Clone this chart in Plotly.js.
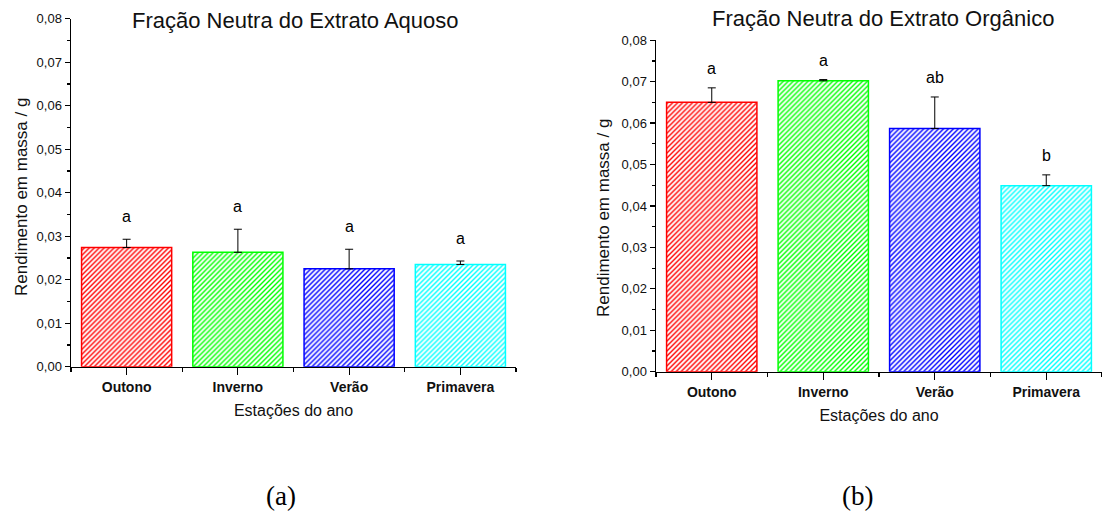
<!DOCTYPE html>
<html>
<head>
<meta charset="utf-8">
<script src="https://cdn.plot.ly/plotly-3.0.1.min.js"></script>
<style>
  html, body { margin: 0; padding: 0; background: #fff; }
  #chart { width: 1102px; height: 515px; }
</style>
</head>
<body>
<div id="chart"></div>
<script>
// Seasons and bar colours
const seasons = ['Outono', 'Inverno', 'Verão', 'Primavera'];
const seasonColors = ['#ff0000', '#00ff00', '#0000ff', '#00ffff'];

// (a) Neutral fraction of the aqueous extract: mean yield (g) and SD
const aqueousMean = [0.0274, 0.0263, 0.0225, 0.0235];
const aqueousSd = [0.0019, 0.0053, 0.0045, 0.0008];
const aqueousLetters = ['a', 'a', 'a', 'a'];

// (b) Neutral fraction of the organic extract: mean yield (g) and SD
const organicMean = [0.0650, 0.0702, 0.0587, 0.0449];
const organicSd = [0.0035, 0.0003, 0.0076, 0.0026];
const organicLetters = ['a', 'a', 'ab', 'b'];

const FONT = 'Liberation Sans, Arial, sans-serif';
const SERIF = 'Liberation Serif, Times New Roman, serif';
const xIdx = seasons.map((_, i) => i);

function barTrace(means, sds, xa, ya) {
  return {
    type: 'bar',
    x: xIdx,
    y: means,
    xaxis: xa,
    yaxis: ya,
    width: 0.81,
    marker: {
      color: '#ffffff',
      line: { color: seasonColors, width: 1.5 },
      pattern: { shape: '/', fgcolor: seasonColors, bgcolor: '#ffffff', size: 3.5, solidity: 0.4 }
    },
    error_y: {
      type: 'data', symmetric: false, array: sds, arrayminus: sds.map(() => 0),
      color: '#000', thickness: 1, width: 4
    },
    hoverinfo: 'skip',
    showlegend: false
  };
}

function letterNotes(means, sds, letters, xref, yref, shift) {
  return letters.map((t, i) => ({
    x: i, y: means[i] + sds[i], xref: xref, yref: yref,
    text: t, showarrow: false, yanchor: 'bottom', yshift: shift,
    font: { family: FONT, size: 16, color: '#000' }
  }));
}

function xAxis(domain, anchor) {
  return {
    domain: domain, anchor: anchor,
    range: [-0.5, 3.5], fixedrange: true,
    tickmode: 'array', tickvals: xIdx, ticktext: seasons,
    ticks: 'outside', ticklen: 7, tickwidth: 1.2, tickcolor: '#000',
    minor: { tick0: 0.5, dtick: 1, ticks: 'outside', ticklen: 4, tickwidth: 1.2, tickcolor: '#000' },
    tickfont: { family: FONT, size: 14, color: '#111', weight: 'bold' },
    showline: true, linecolor: '#000', linewidth: 1.5,
    showgrid: false, zeroline: false,
    title: { text: 'Estações do ano', font: { family: FONT, size: 16, color: '#111' }, standoff: 11 }
  };
}

function yAxis(domain, anchor) {
  return {
    domain: domain, anchor: anchor,
    range: [0, 0.08], fixedrange: true,
    dtick: 0.01, tick0: 0, tickformat: '.2f',
    ticks: 'outside', ticklen: 5, tickwidth: 1.2, tickcolor: '#000',
    minor: { dtick: 0.005, ticks: 'outside', ticklen: 3, tickwidth: 1.2, tickcolor: '#000' },
    tickfont: { family: FONT, size: 13, color: '#111' },
    showline: true, linecolor: '#000', linewidth: 1.5,
    showgrid: false, zeroline: false
  };
}

const W = 1102, H = 515;
const data = [
  barTrace(aqueousMean, aqueousSd, 'x', 'y'),
  barTrace(organicMean, organicSd, 'x2', 'y2')
];

function paperText(text, px, py, font, extra) {
  return Object.assign({
    x: px / W, y: 1 - py / H, xref: 'paper', yref: 'paper', text: text,
    showarrow: false, xanchor: 'center', yanchor: 'middle', font: font
  }, extra || {});
}

const yTitle = 'Rendimento em massa / g';
const annotations = [
  ...letterNotes(aqueousMean, aqueousSd, aqueousLetters, 'x', 'y', 12),
  ...letterNotes(organicMean, organicSd, organicLetters, 'x2', 'y2', 9),
  paperText('Fração Neutra do Extrato Aquoso', 295, 21, { family: FONT, size: 22, color: '#111' }),
  paperText('Fração Neutra do Extrato Orgânico', 883, 18, { family: FONT, size: 22, color: '#111' }),
  paperText(yTitle, 21, 197, { family: FONT, size: 17, color: '#111' }, { textangle: -90 }),
  paperText(yTitle, 603, 218, { family: FONT, size: 17, color: '#111' }, { textangle: -90 }),
  paperText('(a)', 281, 496, { family: SERIF, size: 27, color: '#000' }),
  paperText('(b)', 857, 496, { family: SERIF, size: 27, color: '#000' })
];

const layout = {
  width: W, height: H,
  margin: { l: 0, r: 0, t: 0, b: 0 },
  paper_bgcolor: '#fff', plot_bgcolor: '#fff',
  separators: ',.',
  xaxis: xAxis([71 / W, 516 / W], 'y'),
  yaxis: yAxis([1 - 366.7 / H, 1 - 18.7 / H], 'x'),
  xaxis2: xAxis([656 / W, 1], 'y2'),
  yaxis2: yAxis([1 - 371.7 / H, 1 - 40.2 / H], 'x2'),
  annotations: annotations
};

Plotly.newPlot('chart', data, layout, { displayModeBar: false, staticPlot: true });
</script>
</body>
</html>
